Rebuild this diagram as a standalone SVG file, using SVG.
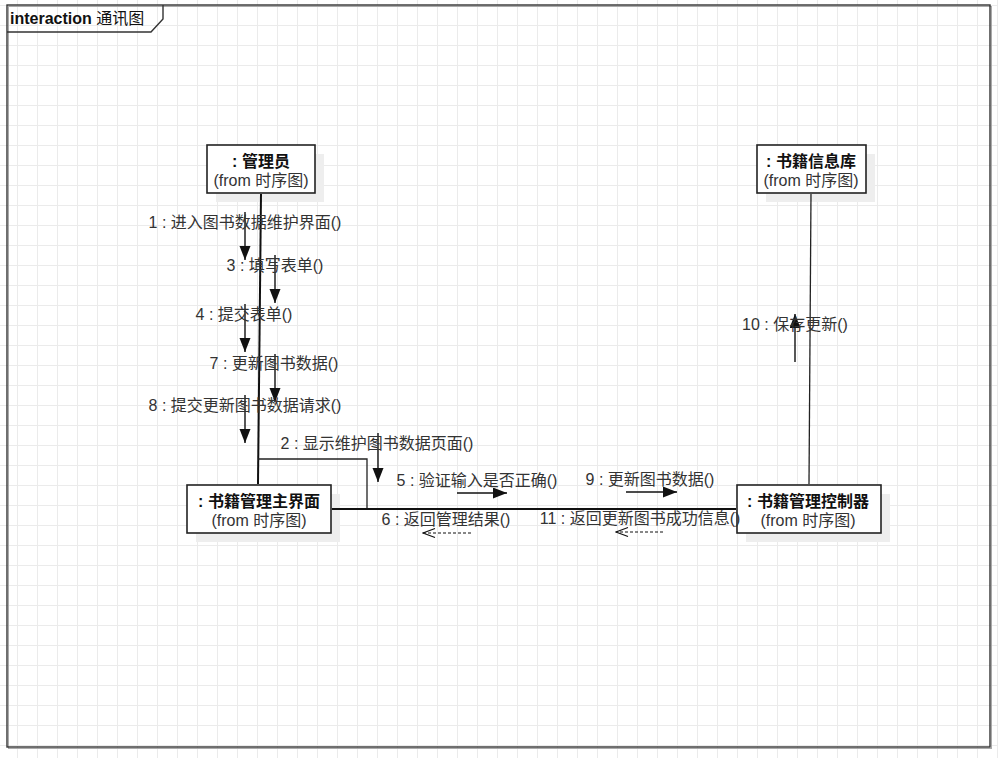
<svg xmlns="http://www.w3.org/2000/svg" width="998" height="758" viewBox="0 0 998 758">
<style>
text{font-family:"Liberation Sans","Noto Sans CJK SC",sans-serif;font-size:16px;fill:#333}
.title{font-weight:bold;fill:#111;text-anchor:middle}
.sub{text-anchor:middle;fill:#333}
.msg{text-anchor:middle}
.box{fill:#fff;stroke:#222;stroke-width:1.6}
.shadow{fill:#eeeeee}
.link{fill:none;stroke:#111;stroke-width:2}
.thin{fill:none;stroke:#222;stroke-width:1.3}
.call{stroke:#111;stroke-width:1.4;marker-end:url(#filled)}
.ret{stroke:#111;stroke-width:1.2;stroke-dasharray:3 2;marker-end:url(#open)}
</style>
<defs>
<pattern id="grid" patternUnits="userSpaceOnUse" x="17" y="5" width="20" height="20">
<rect x="0" y="0" width="1" height="20" fill="#ebebeb"/>
<rect x="0" y="0" width="20" height="1" fill="#ebebeb"/>
</pattern>
<marker id="filled" markerUnits="userSpaceOnUse" markerWidth="15" markerHeight="12" refX="14" refY="5.5" orient="auto">
<path d="M0,0 L14,5.5 L0,11 z" fill="#111"/>
</marker>
<marker id="open" markerUnits="userSpaceOnUse" markerWidth="14" markerHeight="12" refX="12.5" refY="5.5" orient="auto">
<path d="M0.5,1 L12.5,5.5 L0.5,10" fill="none" stroke="#111" stroke-width="1.2"/>
</marker>
</defs>
<rect x="0" y="0" width="998" height="758" fill="#fff"/>
<rect x="0" y="0" width="998" height="758" fill="url(#grid)"/>
<g id="frame">
<rect x="8.5" y="6.5" width="983" height="742" fill="none" stroke="#aaa" stroke-width="1"/>
<rect x="7" y="5" width="983" height="742" fill="none" stroke="#333" stroke-width="1.4"/>
<path d="M7,32 H151 L163,19 V5" fill="none" stroke="#333" stroke-width="1.4"/>
<text x="10" y="24" style="fill:#111"><tspan font-weight="bold">interaction</tspan> 通讯图</text>
</g>
<g id="node-admin">
<rect class="shadow" x="216" y="154" width="108" height="48"/>
<rect class="box" x="207" y="145" width="108" height="48"/>
<text class="title" x="261" y="167">: 管理员</text>
<text class="sub" x="261" y="186">(from 时序图)</text>
</g>
<g id="node-db">
<rect class="shadow" x="766" y="154" width="109" height="48"/>
<rect class="box" x="757" y="145" width="109" height="48"/>
<text class="title" x="811" y="167">: 书籍信息库</text>
<text class="sub" x="811" y="186">(from 时序图)</text>
</g>
<g id="node-ui">
<rect class="shadow" x="196" y="494" width="144" height="48"/>
<rect class="box" x="187" y="485" width="144" height="48"/>
<text class="title" x="259" y="507">: 书籍管理主界面</text>
<text class="sub" x="259" y="526">(from 时序图)</text>
</g>
<g id="node-ctrl">
<rect class="shadow" x="746" y="494" width="144" height="48"/>
<rect class="box" x="737" y="485" width="144" height="48"/>
<text class="title" x="808" y="507">: 书籍管理控制器</text>
<text class="sub" x="808" y="526">(from 时序图)</text>
</g>
<g id="connectors">
<path class="link" d="M261,194 L258,484"/>
<path class="thin" d="M258,459 H367 V509"/>
<path class="link" d="M332,509 H736"/>
<path class="thin" d="M811,194 L809,484"/>
</g>
<g id="messages">
<line class="call" x1="245" y1="212" x2="245" y2="260"/>
<text class="msg" x="245" y="228">1 : 进入图书数据维护界面()</text>
<line class="call" x1="275" y1="255" x2="275" y2="303"/>
<text class="msg" x="275" y="271">3 : 填写表单()</text>
<line class="call" x1="245" y1="304" x2="245" y2="352"/>
<text class="msg" x="244" y="320">4 : 提交表单()</text>
<line class="call" x1="275" y1="354" x2="275" y2="402"/>
<text class="msg" x="274" y="369">7 : 更新图书数据()</text>
<line class="call" x1="245" y1="395" x2="245" y2="443"/>
<text class="msg" x="245" y="411">8 : 提交更新图书数据请求()</text>
<line class="call" x1="378" y1="433" x2="378" y2="482"/>
<text class="msg" x="377" y="449">2 : 显示维护图书数据页面()</text>
<line class="call" x1="457" y1="493" x2="507" y2="493"/>
<text class="msg" x="477" y="486">5 : 验证输入是否正确()</text>
<line class="ret" x1="471" y1="533" x2="423" y2="533"/>
<text class="msg" x="446" y="525">6 : 返回管理结果()</text>
<line class="call" x1="626" y1="492" x2="677" y2="492"/>
<text class="msg" x="650" y="485">9 : 更新图书数据()</text>
<line class="ret" x1="663" y1="532" x2="616" y2="532"/>
<text class="msg" x="640" y="524">11 : 返回更新图书成功信息()</text>
<line class="call" x1="795" y1="362" x2="795" y2="314"/>
<text class="msg" x="795" y="330">10 : 保存更新()</text>
</g>
</svg>
